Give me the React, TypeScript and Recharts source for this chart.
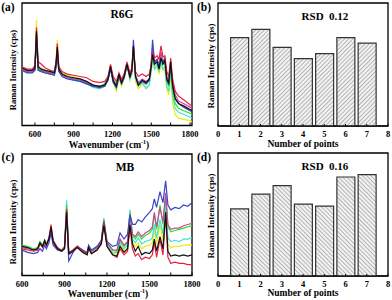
import React from "react"
import { Bar, BarChart, Line, LineChart, ReferenceArea, XAxis, YAxis } from "recharts"

const FONT = '"Liberation Serif", "Times New Roman", serif'

// (a) R6G spectra, intensity in % of panel height
const A_WN = [500, 540, 580, 600, 612, 625, 650, 680, 720, 750, 763, 773, 785, 810, 850, 900, 950, 1000, 1050, 1100, 1140, 1165, 1185, 1205, 1230, 1250, 1270, 1290, 1312, 1335, 1350, 1362, 1378, 1400, 1430, 1460, 1485, 1500, 1510, 1525, 1545, 1560, 1575, 1590, 1605, 1620, 1635, 1650, 1665, 1685, 1710, 1750, 1800, 1815]
const A_BLACK = [47, 45, 45, 47, 77, 48, 46, 45, 44, 43, 50, 64, 46, 42, 40, 39, 38, 36, 33, 32, 33, 38, 48, 37, 32, 42, 35, 40, 50, 40, 45, 65, 40, 33, 37, 35, 38, 48, 58, 50, 52, 46, 55, 50, 53, 38, 35, 52, 33, 22, 18, 16, 13, 12]
const A_RED = [48, 46, 46, 49, 80, 52, 50, 47, 45, 44, 52, 67, 48, 44, 42, 41, 40, 39, 36, 35, 36, 40, 50, 40, 36, 43, 38, 42, 52, 43, 47, 63, 44, 40, 42, 40, 42, 50, 60, 55, 57, 54, 65, 56, 57, 44, 40, 55, 38, 28, 24, 21, 17, 16]
const A_BLUE = [45, 43, 43, 45, 70, 45, 44, 43, 42, 41, 47, 58, 44, 40, 38, 37, 36, 34, 32, 31, 32, 37, 46, 35, 31, 40, 34, 39, 49, 39, 45, 70, 40, 33, 36, 34, 37, 52, 70, 52, 54, 47, 55, 52, 55, 37, 34, 50, 32, 22, 18, 15, 12, 11]
const A_GREEN = [46, 44, 44, 46, 74, 46, 45, 44, 43, 42, 48, 60, 45, 42, 40, 38, 37, 35, 33, 32, 34, 39, 49, 38, 33, 41, 36, 41, 51, 41, 46, 62, 41, 35, 37, 34, 37, 47, 57, 50, 53, 47, 56, 50, 52, 36, 32, 48, 28, 18, 14, 12, 10, 9]
const A_YELLOW = [47, 45, 45, 48, 86, 49, 46, 45, 44, 43, 52, 70, 46, 43, 41, 40, 38, 35, 32, 31, 33, 38, 47, 35, 28, 38, 32, 38, 48, 37, 42, 60, 36, 30, 34, 31, 34, 44, 54, 46, 48, 42, 50, 45, 45, 30, 25, 42, 18, 9, 6, 5, 4, 3]
const A_CYAN = [45, 43, 44, 45, 72, 45, 44, 43, 42, 41, 47, 60, 44, 41, 39, 37, 36, 34, 31, 30, 32, 37, 47, 36, 30, 39, 34, 39, 49, 38, 43, 61, 38, 32, 35, 30, 33, 45, 56, 46, 50, 44, 52, 46, 48, 32, 28, 45, 24, 14, 11, 9, 7, 6]
const A_MAGENTA = [46, 44, 44, 46, 75, 47, 45, 44, 43, 42, 49, 62, 45, 41, 39, 38, 37, 35, 33, 32, 33, 38, 48, 37, 33, 41, 35, 40, 50, 40, 45, 64, 41, 35, 38, 36, 38, 50, 64, 51, 54, 49, 60, 52, 54, 40, 37, 53, 35, 25, 20, 18, 15, 14]

// (c) MB spectra
const C_WN = [600, 640, 680, 710, 727, 745, 760, 772, 790, 805, 820, 850, 880, 900, 915, 930, 960, 990, 1030, 1060, 1070, 1090, 1130, 1160, 1178, 1200, 1240, 1270, 1292, 1320, 1345, 1362, 1380, 1400, 1420, 1445, 1470, 1500, 1520, 1534, 1550, 1574, 1595, 1614, 1630, 1650, 1680, 1710, 1740, 1770, 1800]
const C_BLACK = [24, 23, 21, 22, 27, 24, 29, 25, 30, 40, 28, 22, 20, 22, 52, 18, 20, 23, 19, 17, 23, 18, 21, 26, 41, 24, 17, 16, 24, 19, 22, 42, 26, 20, 24, 17, 19, 18, 21, 30, 20, 32, 22, 52, 20, 16, 17, 16, 17, 16, 17]
const C_RED = [22, 21, 20, 21, 26, 23, 28, 25, 31, 42, 29, 23, 20, 23, 54, 19, 21, 24, 20, 18, 22, 18, 21, 27, 43, 24, 17, 15, 22, 17, 20, 40, 22, 16, 18, 13, 15, 14, 17, 27, 15, 30, 17, 50, 15, 10, 11, 10, 10, 9, 9]
const C_BLUE = [21, 19, 18, 19, 22, 20, 25, 22, 27, 35, 25, 21, 20, 22, 50, 12, 19, 24, 21, 19, 25, 21, 24, 29, 44, 28, 24, 25, 35, 30, 34, 50, 42, 42, 46, 44, 48, 52, 55, 63, 56, 69, 60, 78, 58, 54, 56, 55, 58, 57, 60]
const C_MAGENTA = [23, 22, 21, 22, 26, 24, 28, 25, 30, 38, 27, 22, 21, 23, 55, 17, 21, 24, 20, 18, 24, 20, 23, 28, 45, 27, 21, 21, 30, 25, 28, 50, 34, 32, 36, 32, 35, 37, 40, 52, 40, 56, 44, 68, 42, 38, 39, 39, 41, 42, 43]
const C_GREEN = [25, 24, 22, 23, 28, 25, 29, 26, 31, 36, 28, 23, 21, 24, 58, 18, 21, 24, 20, 18, 24, 20, 23, 29, 47, 27, 21, 20, 29, 24, 27, 52, 33, 30, 34, 30, 33, 35, 38, 50, 38, 58, 42, 66, 40, 36, 37, 38, 39, 40, 41]
const C_CYAN = [24, 23, 21, 22, 27, 24, 28, 25, 30, 37, 27, 22, 21, 24, 62, 17, 20, 23, 19, 17, 23, 19, 22, 28, 46, 25, 19, 19, 27, 22, 25, 54, 30, 27, 31, 26, 28, 29, 31, 42, 31, 46, 34, 60, 31, 28, 29, 28, 30, 30, 31]
const C_YELLOW = [24, 23, 21, 22, 27, 24, 28, 25, 30, 37, 27, 22, 21, 23, 56, 18, 20, 23, 19, 17, 23, 19, 22, 27, 44, 25, 18, 18, 25, 20, 23, 48, 27, 24, 27, 22, 24, 25, 27, 38, 26, 42, 28, 56, 26, 23, 24, 24, 25, 25, 25]

// (b) and (d) peak intensity per measuring point
const POINTS = [1, 2, 3, 4, 5, 6, 7]
const B_VALUES = [718, 786, 640, 548, 588, 718, 673]
const D_VALUES = [545, 665, 735, 585, 568, 805, 825]

const WN_TICKS = [600, 750, 900, 1050, 1200, 1350, 1500, 1650, 1800]
const POINT_TICKS = [0, 1, 2, 3, 4, 5, 6, 7, 8]

const COLORS: Record<string, string> = {
  yellow: "#ecec10",
  cyan: "#3fe3d2",
  green: "#2ee02e",
  magenta: "#c44a9c",
  blue: "#3b43c8",
  red: "#e8203e",
  black: "#111111",
}
const ORDER = ["yellow", "cyan", "green", "magenta", "blue", "red", "black"]

const aData = A_WN.map((wn, i) => ({
  wn,
  black: A_BLACK[i],
  red: A_RED[i],
  blue: A_BLUE[i],
  green: A_GREEN[i],
  yellow: A_YELLOW[i],
  cyan: A_CYAN[i],
  magenta: A_MAGENTA[i],
}))

const cData = C_WN.map((wn, i) => ({
  wn,
  black: C_BLACK[i],
  red: C_RED[i],
  blue: C_BLUE[i],
  green: C_GREEN[i],
  yellow: C_YELLOW[i],
  cyan: C_CYAN[i],
  magenta: C_MAGENTA[i],
}))

const tickStyle = { fontFamily: FONT, fontWeight: 700, fontSize: 8.5, fill: "#000" }

// x axis takes 20px of the bottom offset, margin holds the rest
const AXIS_H = 20

type SpectraProps = {
  data: typeof aData
  xMin: number
  xMax: number
  top: number
  bottom: number
}

function SpectraPanel({ data, xMin, xMax, top, bottom }: SpectraProps) {
  return (
    <LineChart
      width={206}
      height={150}
      data={data}
      margin={{ top, right: 14, bottom: bottom - AXIS_H, left: 22 }}
      style={{ overflow: "visible" }}
    >
      <XAxis
        dataKey="wn"
        type="number"
        domain={[xMin, xMax]}
        ticks={WN_TICKS}
        allowDataOverflow
        height={AXIS_H}
        interval={0}
        tickFormatter={(v: number) => (v % 300 === 0 ? String(v) : "")}
        tick={tickStyle}
        tickSize={-3}
        tickMargin={8}
        stroke="#000"
      />
      <YAxis type="number" domain={[0, 100]} hide width={0} />
      {ORDER.map((k) => (
        <Line
          key={k}
          dataKey={k}
          stroke={COLORS[k]}
          strokeWidth={1.2}
          dot={false}
          type="linear"
          isAnimationActive={false}
        />
      ))}
      <ReferenceArea x1={xMin} x2={xMax} y1={0} y2={100} fill="none" stroke="#000" strokeWidth={1.3} />
    </LineChart>
  )
}

type BarsProps = {
  values: number[]
  id: string
  angle: number
  top: number
  bottom: number
}

function BarsPanel({ values, id, angle, top, bottom }: BarsProps) {
  const data = POINTS.map((p, i) => ({ point: p, value: values[i] }))
  return (
    <BarChart width={196} height={150} data={data} margin={{ top, right: 4, bottom: bottom - AXIS_H, left: 22 }}>
      <defs>
        <pattern id={id} patternUnits="userSpaceOnUse" width="3" height="3" patternTransform={`rotate(${angle})`}>
          <rect width="3" height="3" fill="#f2f2f2" />
          <line x1="0" y1="0" x2="0" y2="3" stroke="#8c8c8c" strokeWidth="1.2" />
        </pattern>
      </defs>
      <XAxis
        dataKey="point"
        type="number"
        domain={[0, 8]}
        ticks={POINT_TICKS}
        interval={0}
        height={AXIS_H}
        tick={tickStyle}
        tickSize={-2}
        tickMargin={7}
        stroke="#000"
      />
      <YAxis type="number" domain={[0, 1000]} hide width={0} />
      <Bar dataKey="value" barSize={18} fill={`url(#${id})`} stroke="#333" strokeWidth={1.2} isAnimationActive={false} />
      <ReferenceArea x1={0} x2={8} y1={0} y2={1000} fill="none" stroke="#000" strokeWidth={1.3} />
    </BarChart>
  )
}

const txt = (left: number, top: number, size: number, rotate = 0): React.CSSProperties => ({
  position: "absolute",
  left,
  top,
  transform: `translate(-50%, -50%) rotate(${rotate}deg)`,
  fontFamily: FONT,
  fontWeight: 700,
  fontSize: size,
  whiteSpace: "nowrap",
  lineHeight: 1,
  color: "#000",
})

function Wavenumber({ x, y }: { x: number; y: number }) {
  return (
    <div style={txt(x, y, 9.5)}>
      Wavenumber (cm<sup style={{ fontSize: 6 }}>-1</sup>)
    </div>
  )
}

export default function App() {
  return (
    <div style={{ position: "absolute", left: 0, top: 0, width: 392, height: 300, background: "#fff" }}>
      <div style={{ position: "absolute", left: 0, top: 0 }}>
        <SpectraPanel data={aData} xMin={500} xMax={1815} top={3} bottom={24.5} />
      </div>
      <div style={{ position: "absolute", left: 196, top: 0 }}>
        <BarsPanel values={B_VALUES} id="hatchB" angle={45} top={3} bottom={24} />
      </div>
      <div style={{ position: "absolute", left: 0, top: 150 }}>
        <SpectraPanel data={cData} xMin={600} xMax={1800} top={4} bottom={24.5} />
      </div>
      <div style={{ position: "absolute", left: 196, top: 150 }}>
        <BarsPanel values={D_VALUES} id="hatchD" angle={-45} top={3} bottom={24} />
      </div>

      <div style={txt(8, 8, 11.5)}>(a)</div>
      <div style={txt(204, 8, 11.5)}>(b)</div>
      <div style={txt(8, 158, 11.5)}>(c)</div>
      <div style={txt(204, 158, 11.5)}>(d)</div>

      <div style={txt(122, 15, 11.5)}>R6G</div>
      <div style={txt(125, 168, 11.5)}>MB</div>
      <div style={{ ...txt(325, 16, 11) }}>RSD&nbsp;&nbsp;0.12</div>
      <div style={{ ...txt(325, 166, 11) }}>RSD&nbsp;&nbsp;0.16</div>

      <div style={txt(13, 70, 8.5, -90)}>Raman Intensity (cps)</div>
      <div style={txt(211, 66, 9, -90)}>Raman Intensity (cps)</div>
      <div style={txt(13, 222, 9, -90)}>Raman Intensity (cps)</div>
      <div style={txt(211, 216, 9, -90)}>Raman Intensity (cps)</div>

      <Wavenumber x={109} y={145} />
      <div style={txt(303, 145, 9.5)}>Number of points</div>
      <Wavenumber x={108} y={294} />
      <div style={txt(303, 294, 9.5)}>Number of points</div>
    </div>
  )
}
